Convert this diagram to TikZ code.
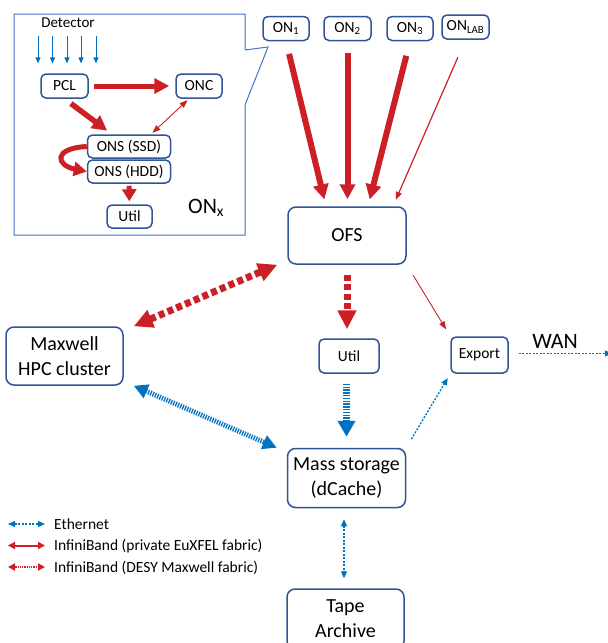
\documentclass[tikz,border=0pt]{standalone}
\usepackage{fontspec}
\setmainfont{Carlito}
\usepackage{xcolor}
\usepackage{tikz}
\usetikzlibrary{arrows.meta, calc, positioning}
\definecolor{boxblue}{RGB}{47,85,151}
\definecolor{calloutblue}{RGB}{68,114,196}
\definecolor{ibred}{RGB}{204,32,38}
\definecolor{ethblue}{RGB}{0,112,192}
\tikzstyle{box} = [rectangle, rounded corners=5pt, draw=boxblue, line width=1.5pt, fill=white, align=center, inner sep=0pt]
\tikzstyle{bigbox} = [box, rounded corners=8pt, font=\fontsize{20}{25}\selectfont]
\tikzstyle{smallbox} = [box, font=\fontsize{15.5}{17}\selectfont]
\tikzstyle{fatred} = [draw=ibred, line width=6pt, -{Triangle[length=15pt,width=15pt]}]
\tikzstyle{thinred} = [draw=ibred, line width=0.9pt, >={Triangle[length=8pt,width=6pt]}]
\tikzstyle{dashred} = [draw=ibred, line width=7pt, dash pattern=on 6pt off 3.5pt, >={Triangle[length=19pt,width=18pt]}]
\tikzstyle{stripeblue} = [draw=ethblue, line width=7pt, dash pattern=on 1.5pt off 1.3pt, >={Triangle[length=16pt,width=17pt]}]
\tikzstyle{dotblue} = [draw=ethblue, line width=1.3pt, dash pattern=on 2pt off 1.5pt, >={Triangle[length=7pt,width=6pt]}]
\tikzstyle{keytext} = [anchor=base west, inner sep=0pt, font=\fontsize{15.5}{17}\selectfont]

\begin{document}
\begin{tikzpicture}[x=1pt, y=-1pt]
    \useasboundingbox (0,0) rectangle (608,643);

    % online cluster node, zoomed out of ON_1
    \draw[calloutblue, line width=1pt] (14,14) -- (245,14) -- (245,50) -- (268,47) -- (245,105) -- (245,235) -- (14,235) -- cycle;
    \node (det) at (68,23) [font=\fontsize{15}{17}\selectfont] {Detector};
    \node (pcl) at (64.5,86) [smallbox, minimum width=47pt, minimum height=24pt] {PCL};
    \node (onc) at (199,86) [smallbox, minimum width=46pt, minimum height=24pt] {ONC};
    \node (ssd) at (129,146.5) [smallbox, minimum width=83pt, minimum height=23pt] {ONS (SSD)};
    \node (hdd) at (129,171.5) [smallbox, minimum width=83pt, minimum height=23pt] {ONS (HDD)};
    \node (utilx) at (129.5,216.5) [smallbox, minimum width=45pt, minimum height=23pt] {Util};
    \node (onx) at (188,213) [anchor=base west, inner sep=0pt, font=\fontsize{22}{24}\selectfont] {ON\textsubscript{x}};

    \foreach \dx in {-30,-15.5,-1,13,28}
        \draw[ethblue, line width=1pt, -{Triangle[length=6pt,width=5pt]}] ($(det.south)+(\dx,5)$) -- ++(0,27);
    \draw[fatred, line width=5pt, shorten <=5pt, shorten >=6pt] (pcl) -- (onc);
    \draw[fatred, line width=5.5pt, shorten <=8pt, shorten >=6pt] (pcl.south) -- ($(ssd.north)+(-17,0)$);
    \draw[thinred, <->, shorten <=2pt, shorten >=2pt] ($(onc.south)+(-10,0)$) -- ($(ssd.north)+(22,0)$);
    \draw[fatred, line width=5pt, -{Triangle[length=13pt,width=14pt]}] (ssd.west) .. controls +(-35,2) and +(-30,-6) .. (hdd.west);
    \draw[fatred, line width=5pt, -{Triangle[length=12pt,width=14pt]}, shorten <=2pt, shorten >=3pt] (hdd) -- (utilx);

    % online nodes feeding the file system
    \node (on1) at (286,28.5) [smallbox, minimum width=46pt, minimum height=24pt] {ON\textsubscript{1}};
    \node (on2) at (347.5,28.5) [smallbox, minimum width=47pt, minimum height=24pt] {ON\textsubscript{2}};
    \node (on3) at (410,28.5) [smallbox, minimum width=46pt, minimum height=24pt] {ON\textsubscript{3}};
    \node (onlab) at (465.5,27) [smallbox, minimum width=47pt, minimum height=24pt] {ON\textsubscript{LAB}};
    \node (ofs) at (347,235.5) [bigbox, minimum width=118pt, minimum height=57pt] {OFS};

    \draw[fatred, shorten <=13pt, shorten >=7pt] (on1.south) -- ($(ofs.north)+(-21,0)$);
    \draw[fatred, shorten <=12pt, shorten >=7pt] (on2.south) -- (on2.south |- ofs.north);
    \draw[fatred, shorten <=15pt, shorten >=7pt] (on3.south) -- ($(ofs.north)+(21,0)$);
    \draw[thinred, ->, line width=1.2pt, shorten <=19pt, shorten >=7pt] (onlab.south) -- ($(ofs.north)+(46,0)$);

    % offline side
    \node (maxwell) at (64.5,356) [bigbox, minimum width=117pt, minimum height=58pt] {Maxwell\\HPC cluster};
    \node (util) at (349,356) [box, minimum width=60pt, minimum height=34pt, font=\fontsize{15.5}{18}\selectfont] {Util};
    \node (export) at (479.5,355) [box, minimum width=57pt, minimum height=36pt, font=\fontsize{15.5}{17}\selectfont] {Export};
    \node (wan) at (555,341) [font=\fontsize{22}{24}\selectfont] {WAN};
    \node (mass) at (346.5,478) [bigbox, minimum width=118pt, minimum height=59pt] {Mass storage\\(dCache)};
    \node (tape) at (345.5,619) [bigbox, minimum width=117pt, minimum height=60pt] {Tape\\Archive};
    \coordinate (wanend) at (612,353.5);

    \draw[dashred, <->] ($(maxwell.north east)+(10,0)$) -- ($(ofs.south west)+(-10,0)$);
    \draw[dashred, ->, shorten <=10pt, shorten >=9pt] (ofs.south) -- (ofs.south |- util.north);
    \draw[stripeblue, ->, shorten <=10pt, shorten >=11pt] (util.south -| mass.north) -- (mass.north);
    \draw[stripeblue, line width=5pt, dash pattern=on 1.3pt off 1.2pt, >={Triangle[length=14pt,width=14pt]}, <->] ($(maxwell.south east)+(10,0)$) -- ($(mass.north west)+(-10,0)$);
    \draw[thinred, ->, shorten <=12pt, shorten >=8pt] (ofs.south east) -- (export.north west);
    \draw[dotblue, ->, shorten <=10pt, shorten >=5pt] (mass.north east) -- (export.south west);
    \draw[dotblue, ->, shorten <=10pt] (export.east |- wanend) -- (wanend);
    \draw[dotblue, <->, shorten <=11pt, shorten >=10pt] ($(mass.south)+(-2.5,0)$) -- ($(tape.north)+(-1.5,0)$);

    % key
    \coordinate (k1a) at (8,524);
    \coordinate (k1b) at (45,524);
    \coordinate (k2a) at (8,545.5);
    \coordinate (k2b) at (45,545.5);
    \coordinate (k3a) at (8,567);
    \coordinate (k3b) at (45,567);
    \node (key1) at (54,529) [keytext] {Ethernet};
    \node (key2) at (54,550.5) [keytext] {InfiniBand (private EuXFEL fabric)};
    \node (key3) at (54,572) [keytext] {InfiniBand (DESY Maxwell fabric)};
    \draw[dotblue, <->] (k1a) -- (k1b);
    \draw[ibred, line width=2pt, >={Triangle[length=7pt,width=7pt]}, <->] (k2a) -- (k2b);
    \draw[ibred, line width=2pt, dash pattern=on 1pt off 0.8pt, >={Triangle[length=7pt,width=7pt]}, <->] (k3a) -- (k3b);
\end{tikzpicture}
\end{document}
